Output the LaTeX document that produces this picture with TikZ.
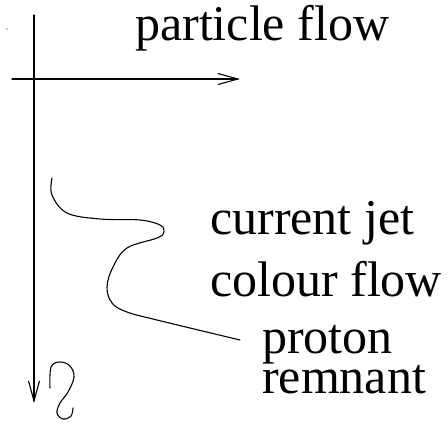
\documentclass[tikz,border=0pt]{standalone}
\usepackage{fontspec}
\setmainfont{Liberation Serif}
\usetikzlibrary{arrows.meta}
\begin{document}
\begin{tikzpicture}[x=1pt,y=-1pt,
  thinline/.style={line width=1.1pt,line cap=round,line join=round},
  axis/.style={thinline,-{Straight Barb[length=20pt,width=11pt,line width=1.1pt]}},
  lbl/.style={anchor=base west,inner sep=0pt,font=\fontsize{50}{50}\selectfont}]
\useasboundingbox (0,0) rectangle (448,424);
% axes
\coordinate (vtop) at (34,15);
\coordinate (vbot) at (34,403);
\coordinate (hleft) at (12,79);
\coordinate (hright) at (240,79);
\draw[axis] (vtop) -- (vbot);
\draw[axis] (hleft) -- (hright);
\fill (7,29) circle (0.6pt);
% labels
\node[lbl] (pf) at (135,40) {particle flow};
\node[lbl] (cj) at (210,234) {current jet};
\node[lbl] (cf) at (210,296) {colour flow};
\node[lbl,align=left,font=\fontsize{50}{35}\selectfont] (pr) at (262,393) {proton\\remnant};
% colour flow string
\draw[thinline] plot[smooth,tension=0.6] coordinates {
  (52,178) (52,195) (67,213) (100,219) (140,220) (160,225) (164,232)
  (157,238) (127,248) (113,267) (107,287) (112,303) (127,312)
  (157,320) (240,340)};
% proton remnant squiggle
\draw[thinline] plot[smooth,tension=0.6] coordinates {
  (50,388) (51,367) (60,362) (70,366) (74,377) (68,392) (60,403)
  (57,413) (63,419) (71,416) (73,408)};
\end{tikzpicture}
\end{document}
